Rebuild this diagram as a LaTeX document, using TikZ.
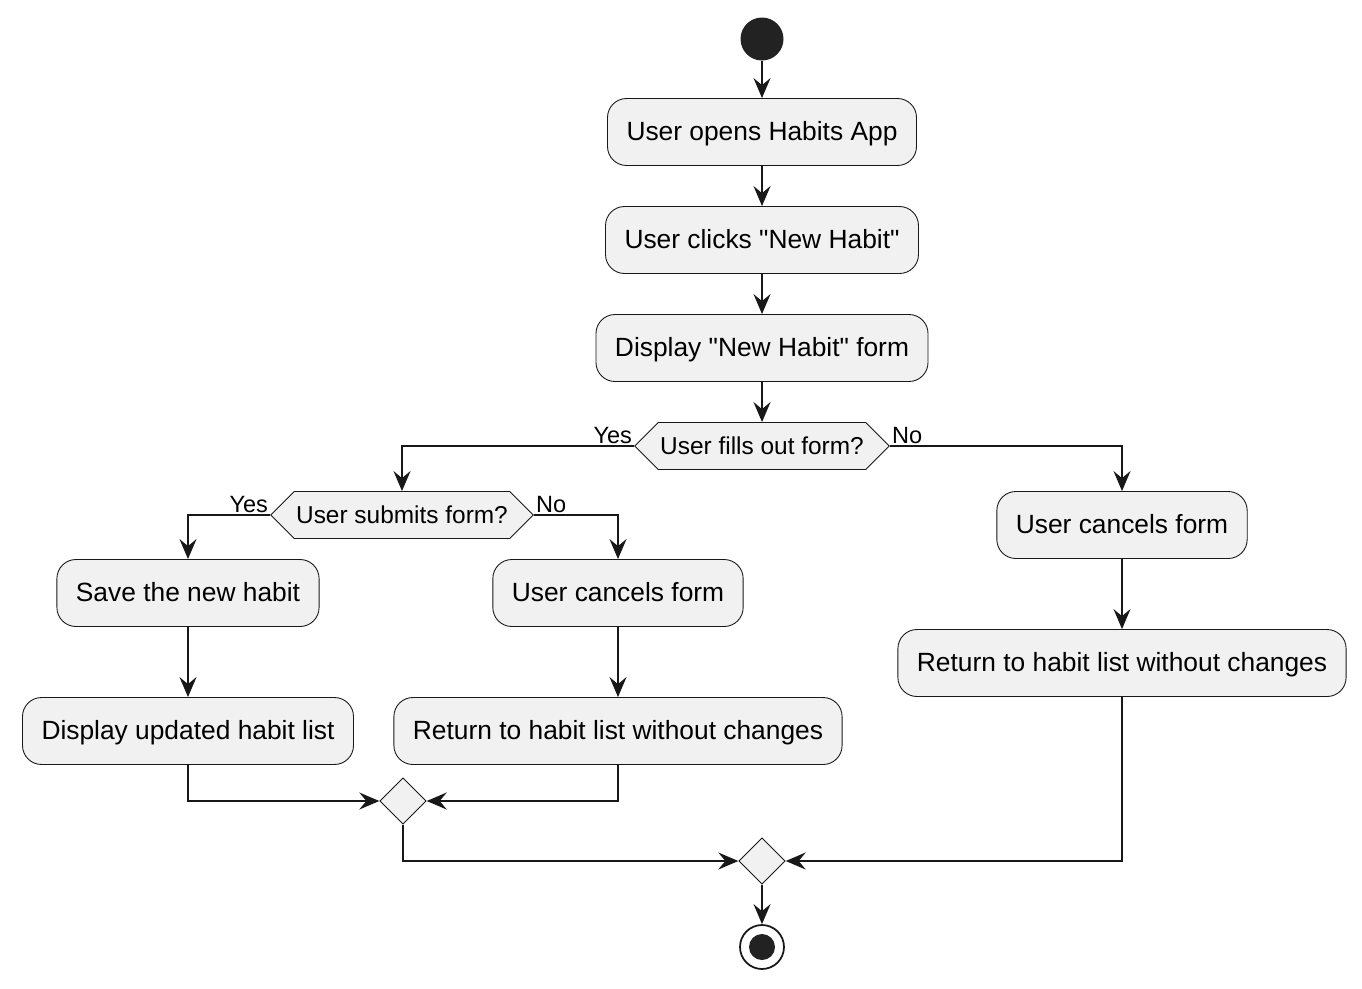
\documentclass[tikz,border=0pt]{standalone}
\usepackage{fontspec}
\setmainfont{Liberation Sans}[Ligatures=TeXOff]
\usepackage{tikz}
\usetikzlibrary{arrows.meta, shapes.geometric, shapes.symbols, positioning}
\definecolor{umlFill}{HTML}{F1F1F1}
\definecolor{umlLine}{HTML}{181818}
\definecolor{umlDot}{HTML}{222222}
\tikzset{
    action/.style={rectangle, draw=umlLine, line width=0.5pt, fill=umlFill, rounded corners=0.38cm, minimum height=1.34cm, inner xsep=0.38cm, text height=1.1em, text depth=0.16em, font=\fontsize{15}{17}\selectfont},
    query/.style={signal, signal to=west and east, signal pointer angle=90, draw=umlLine, line width=0.5pt, fill=umlFill, minimum height=0.94cm, inner xsep=0.04cm, text height=1.1em, text depth=0.16em, font=\fontsize{13.9}{16}\selectfont},
    merge/.style={diamond, draw=umlLine, line width=0.5pt, fill=umlFill, minimum size=0.93cm, inner sep=0pt},
    startDot/.style={circle, fill=umlDot, minimum size=0.86cm, inner sep=0pt},
    stopDot/.style={circle, draw=umlLine, line width=1pt, fill=white, minimum size=0.88cm, inner sep=0pt, path picture={\fill[umlDot] (path picture bounding box.center) circle (0.26cm);}},
    flow/.style={-{Stealth[length=0.4cm, width=0.34cm, inset=0.14cm]}, line width=1.1pt, draw=umlLine},
    guard/.style={font=\fontsize{13.4}{15}\selectfont, inner sep=1pt}
}
\begin{document}
\begin{tikzpicture}[x=0.02cm, y=-0.02cm]
    \useasboundingbox (0,0) rectangle (1362,988);

    % Main column
    \node[startDot] (Start) at (762,39) {};
    \node[action] (Open) at (762,132) {User opens Habits App};
    \node[action] (Clicks) at (762,240) {User clicks "New Habit"};
    \node[action] (Form) at (762,348) {Display "New Habit" form};
    \node[query] (FillQ) at (762,446) {User fills out form?};

    % Yes branch
    \node[query] (SubmitQ) at (402,515) {User submits form?};
    \node[action] (Save) at (188,593) {Save the new habit};
    \node[action] (ShowList) at (188,731) {Display updated habit list};
    \node[action] (CancelIn) at (618,593) {User cancels form};
    \node[action] (ReturnIn) at (618,731) {Return to habit list without changes};
    \node[merge] (MergeIn) at (403,801) {};

    % No branch
    \node[action] (CancelOut) at (1122,525) {User cancels form};
    \node[action] (ReturnOut) at (1122,663) {Return to habit list without changes};

    % End
    \node[merge] (MergeOut) at (762,861) {};
    \node[stopDot] (Stop) at (762,947) {};

    % Arrows
    \draw[flow] (Start) -- (Open);
    \draw[flow] (Open) -- (Clicks);
    \draw[flow] (Clicks) -- (Form);
    \draw[flow] (Form) -- (FillQ);
    \draw[flow] (FillQ.west) -| (SubmitQ.north);
    \draw[flow] (FillQ.east) -| (CancelOut.north);
    \draw[flow] (SubmitQ.west) -| (Save.north);
    \draw[flow] (SubmitQ.east) -| (CancelIn.north);
    \draw[flow] (Save) -- (ShowList);
    \draw[flow] (CancelIn) -- (ReturnIn);
    \draw[flow] (CancelOut) -- (ReturnOut);
    \draw[flow] (ShowList.south) |- (MergeIn.west);
    \draw[flow] (ReturnIn.south) |- (MergeIn.east);
    \draw[flow] (MergeIn.south) |- (MergeOut.west);
    \draw[flow] (ReturnOut.south) |- (MergeOut.east);
    \draw[flow] (MergeOut) -- (Stop);

    % Guards
    \node[guard, anchor=south east] at (FillQ.west) {Yes};
    \node[guard, anchor=south west] at (FillQ.east) {No};
    \node[guard, anchor=south east] at (SubmitQ.west) {Yes};
    \node[guard, anchor=south west] at (SubmitQ.east) {No};
\end{tikzpicture}
\end{document}
